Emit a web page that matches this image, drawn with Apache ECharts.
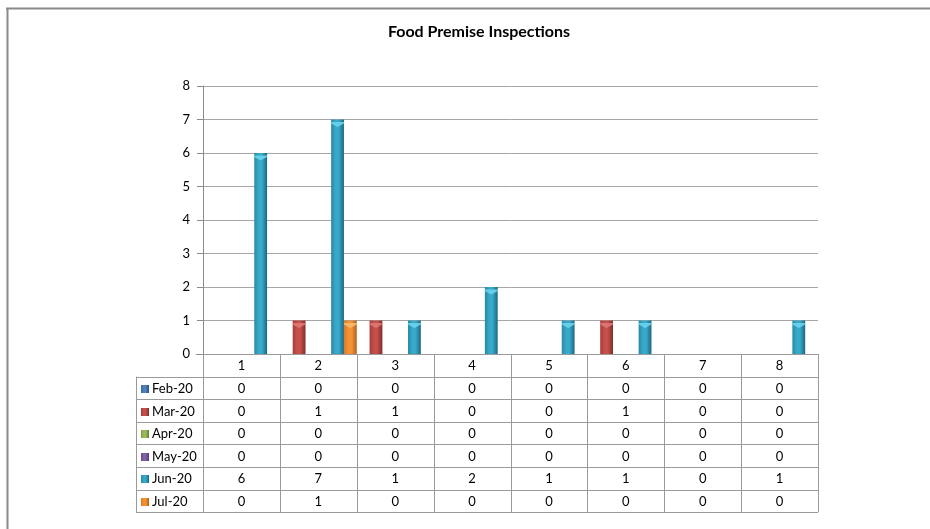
<!DOCTYPE html>
<html>
<head>
<meta charset="utf-8">
<script src="https://cdn.jsdelivr.net/npm/echarts@6/dist/echarts.min.js"></script>
<style>html,body{margin:0;padding:0;background:#fff;overflow:hidden}#c{width:930px;height:529px}</style>
</head>
<body>
<div id="c"></div>
<script>
const titleText = 'Food Premise Inspections';
const categories = ['1', '2', '3', '4', '5', '6', '7', '8'];
const seriesNames = ['Feb-20', 'Mar-20', 'Apr-20', 'May-20', 'Jun-20', 'Jul-20'];
const feb20 = [0, 0, 0, 0, 0, 0, 0, 0];
const mar20 = [0, 1, 1, 0, 0, 1, 0, 0];
const apr20 = [0, 0, 0, 0, 0, 0, 0, 0];
const may20 = [0, 0, 0, 0, 0, 0, 0, 0];
const jun20 = [6, 7, 1, 2, 1, 1, 0, 1];
const jul20 = [0, 1, 0, 0, 0, 0, 0, 0];
const yMin = 0, yMax = 8, yInterval = 1;

const seriesValues = [feb20, mar20, apr20, may20, jun20, jul20];
// [dark edge, light, darker edge, cap]
const palettes = [
  ['#3a66a0', '#4f81bd', '#2c4f7e', '#7ea3d6'],
  ['#a63b38', '#c4504c', '#822a28', '#e07a77'],
  ['#7f9c43', '#9bbb59', '#627a33', '#bcd98a'],
  ['#674f87', '#8064a2', '#4f3b6a', '#a994c6'],
  ['#2a88a5', '#38a9c9', '#1b6680', '#6fd6ee'],
  ['#d97a28', '#f39235', '#b0601b', '#fbbd72']
];
const font = 'Lato, "Open Sans", sans-serif';
const fs = 13;

function grad(p) {
  return new echarts.graphic.LinearGradient(0, 0, 1, 0, [
    { offset: 0, color: p[0] },
    { offset: 0.35, color: p[1] },
    { offset: 0.6, color: p[1] },
    { offset: 1, color: p[2] }
  ]);
}

const series = [];
seriesValues.forEach((vals, i) => {
  series.push({
    name: seriesNames[i], type: 'bar', data: vals,
    barGap: '0%', barCategoryGap: '0%',
    itemStyle: { color: grad(palettes[i]) }
  });
});
seriesValues.forEach((vals, i) => {
  series.push({
    name: seriesNames[i] + ' cap', type: 'pictorialBar',
    data: vals.map(v => v > 0 ? v : '-'),
    barGap: '0%', barCategoryGap: '0%',
    symbol: 'path://M0,0 L10,0 L10,1.5 L5,5 L0,1.5 Z',
    symbolSize: ['100%', 5], symbolPosition: 'end', symbolOffset: [0, '50%'],
    itemStyle: { color: palettes[i][3], opacity: 0.85 },
    z: 3, silent: true
  });
});

const chart = echarts.init(document.getElementById('c'));
chart.setOption({
  animation: false,
  backgroundColor: '#fff',
  title: {
    text: titleText, left: 474, top: 19, textAlign: 'center',
    textStyle: { fontFamily: font, fontSize: 16, fontWeight: 'bold', color: '#000' }
  },
  grid: { left: 203, right: 112, top: 86, bottom: 175 },
  xAxis: {
    type: 'category', data: categories,
    axisLine: { show: false },
    axisTick: { show: false },
    axisLabel: { show: false }
  },
  yAxis: {
    type: 'value', min: yMin, max: yMax, interval: yInterval,
    axisLine: { show: true, lineStyle: { color: '#8c8c8c', width: 1 } },
    axisTick: { show: true, length: 6, lineStyle: { color: '#8c8c8c' } },
    axisLabel: { fontFamily: font, fontSize: fs, color: '#000', margin: 13 },
    splitLine: { lineStyle: { color: '#a6a6a6', width: 1 } }
  },
  series: series
});

// Data table under the plot, positioned via the axes
const cx0 = chart.convertToPixel({ xAxisIndex: 0 }, 0);
const cx1 = chart.convertToPixel({ xAxisIndex: 0 }, 1);
const band = cx1 - cx0;
const left = cx0 - band / 2;
const right = chart.convertToPixel({ xAxisIndex: 0 }, categories.length - 1) + band / 2;
const y0 = chart.convertToPixel({ yAxisIndex: 0 }, yMin);
const rowH = 22.6;
const legLeft = 136;
const nRows = seriesNames.length + 1;
const bottom = y0 + rowH * nRows;
const lineColor = '#9a9a9a';
const g = [];
function hline(x1, x2, y, color, w) {
  g.push({ type: 'line', silent: true, shape: { x1: x1, y1: Math.round(y) + 0.5, x2: x2, y2: Math.round(y) + 0.5 }, style: { stroke: color || lineColor, lineWidth: w || 1 } });
}
function vline(x, y1, y2, color, w) {
  g.push({ type: 'line', silent: true, shape: { x1: Math.round(x) + 0.5, y1: y1, x2: Math.round(x) + 0.5, y2: y2 }, style: { stroke: color || lineColor, lineWidth: w || 1 } });
}
// top (axis) line incl. tick at 0
hline(left - 7, right, y0);
for (let r = 1; r <= nRows; r++) hline(legLeft, right, y0 + rowH * r);
for (let c = 0; c <= categories.length; c++) vline(left + band * c, y0, bottom);
vline(legLeft, y0 + rowH, bottom);
categories.forEach((cat, c) => {
  const x = chart.convertToPixel({ xAxisIndex: 0 }, c);
  g.push({ type: 'text', silent: true, x: x, y: y0 + rowH / 2 + 1, style: { text: cat, fill: '#000', font: fs + 'px ' + font, align: 'center', verticalAlign: 'middle' } });
  seriesValues.forEach((vals, s) => {
    g.push({ type: 'text', silent: true, x: x, y: y0 + rowH * (s + 1.5) + 1, style: { text: String(vals[c]), fill: '#000', font: fs + 'px ' + font, align: 'center', verticalAlign: 'middle' } });
  });
});
seriesNames.forEach((name, s) => {
  const yc = y0 + rowH * (s + 1.5);
  g.push({ type: 'rect', silent: true, shape: { x: legLeft + 5, y: Math.round(yc) - 3, width: 8, height: 8 }, style: { fill: grad(palettes[s]) } });
  g.push({ type: 'text', silent: true, x: legLeft + 16, y: yc + 1, style: { text: name, fill: '#000', font: fs + 'px ' + font, align: 'left', verticalAlign: 'middle' } });
});
// outer chart-area border (left and top only)
vline(6.5, 8, 529, '#8a8a8a', 2);
hline(6, 930, 7.5, '#8a8a8a', 2);
chart.setOption({ graphic: g });
</script>
</body>
</html>
